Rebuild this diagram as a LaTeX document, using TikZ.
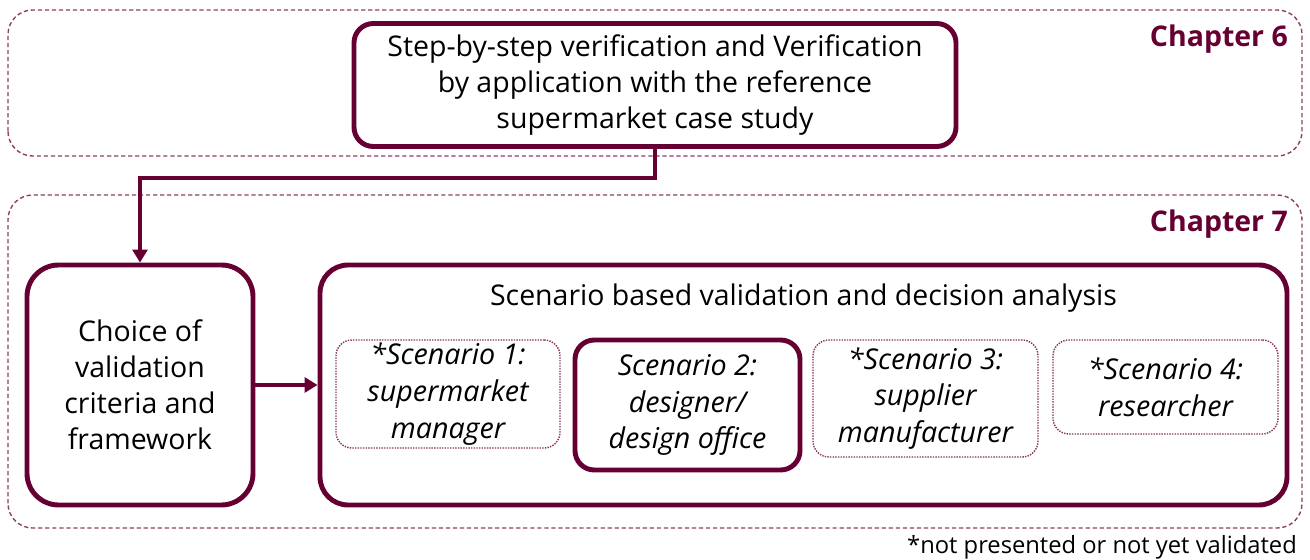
\documentclass[tikz,border=0pt]{standalone}
\usepackage{fontspec}
\setmainfont{Open Sans}
\usetikzlibrary{arrows.meta,calc,positioning}
\definecolor{chapterplum}{HTML}{660033}

\begin{document}
\begin{tikzpicture}[
  chapterpanel/.style={draw=chapterplum!75,rounded corners=14pt,
    line width=0.8pt,dash pattern=on 2.4pt off 1.6pt},
  chaptertitle/.style={anchor=base east,text=chapterplum,
    font=\bfseries\fontsize{16.2}{19}\selectfont},
  stagebox/.style={draw=chapterplum,line width=2.8pt,rounded corners=11pt,
    fill=white,align=center,inner sep=0pt,
    font=\fontsize{16.2}{20.5}\selectfont},
  scenebox/.style={stagebox,minimum width=4.5cm,
    font=\itshape\fontsize{16.3}{20.8}\selectfont},
  pendingbox/.style={scenebox,line width=0.8pt,draw=chapterplum!80,
    rounded corners=9pt,dash pattern=on 0.8pt off 0.7pt},
  stageflow/.style={-{Triangle[length=2.6mm,width=3mm]},draw=chapterplum,
    line width=2.8pt}
]
  \useasboundingbox (0,0) rectangle (26.2,11.2);

  % chapter 6
  \draw[chapterpanel] (0.16,8.08) rectangle (26.04,11.0);
  \node[chaptertitle] (ch6) at (25.88,10.27) {Chapter 6};
  \node[stagebox,minimum width=12.04cm,minimum height=2.46cm] (verify)
    at (13.1,9.5) {Step-by-step verification and Verification\\
    by application with the reference\\supermarket case study};

  % chapter 7
  \draw[chapterpanel] (0.16,0.64) rectangle (26.04,7.3);
  \node[chaptertitle] (ch7) at (25.88,6.56) {Chapter 7};
  \node[stagebox,rounded corners=18pt,minimum width=4.52cm,
    minimum height=4.8cm] (choice) at (2.8,3.5)
    {Choice of\\validation\\criteria and\\framework};
  \node[stagebox,rounded corners=16pt,minimum width=19.34cm,
    minimum height=4.8cm] (scenarios) at (16.07,3.5) {};
  \node[anchor=north,font=\fontsize{16.2}{20.5}\selectfont] (scentitle)
    at ($(scenarios.north)+(0,-0.3)$)
    {Scenario based validation and decision analysis};

  \node[pendingbox,minimum width=4.48cm,minimum height=2.16cm] (scen1)
    at (8.96,3.32) {*Scenario 1:\\supermarket\\manager};
  \node[scenebox,minimum height=2.6cm] (scen2) at (13.75,3.1)
    {Scenario 2:\\designer/\\design office};
  \node[pendingbox,minimum height=2.34cm] (scen3) at (18.51,3.23)
    {*Scenario 3:\\supplier\\manufacturer};
  \node[pendingbox,minimum height=1.88cm] (scen4) at (23.31,3.46)
    {*Scenario 4:\\researcher};

  \node[anchor=base east,font=\fontsize{13.5}{16}\selectfont] (footnote)
    at (26.06,0.13) {*not presented or not yet validated};

  % connectors
  \coordinate (bend) at (2.8,7.64);
  \draw[stageflow] (verify.south) |- (bend) -- (choice.north);
  \draw[stageflow] (choice) -- (scenarios);
\end{tikzpicture}
\end{document}
